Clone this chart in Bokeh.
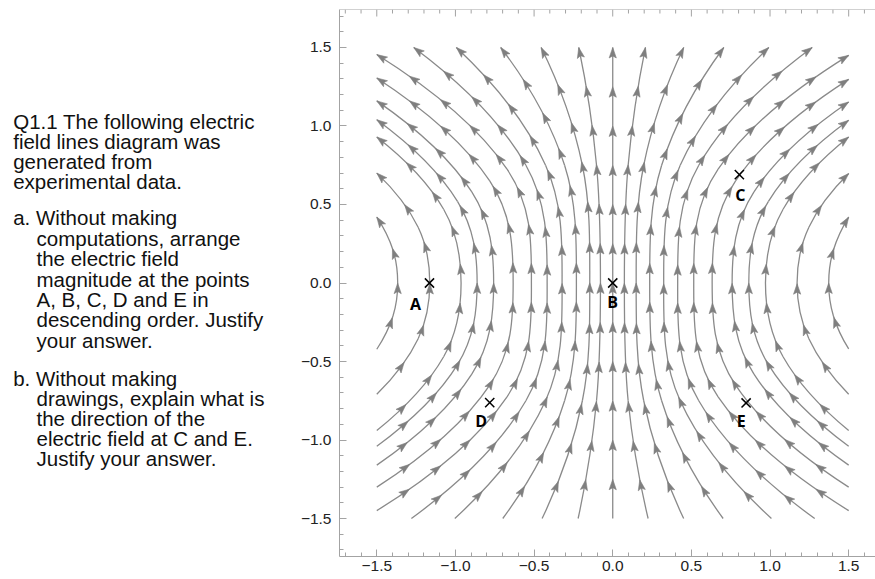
import numpy as np
from bokeh.plotting import figure
from bokeh.layouts import row
from bokeh.models import Range1d, SingleIntervalTicker, CustomJSTickFormatter, Span
from bokeh.core.properties import value
from bokeh.embed import file_html
from bokeh.resources import INLINE

# ---------------- question text ----------------
q_lines = ["Q1.1 The following electric", "field lines diagram was",
           "generated from", "experimental data."]
a_lines = ["a. Without making", "computations, arrange", "the electric field",
           "magnitude at the points", "A, B, C, D and E in",
           "descending order. Justify", "your answer."]
b_lines = ["b. Without making", "drawings, explain what is",
           "the direction of the", "electric field at C and E.",
           "Justify your answer."]

# ---------------- field lines, left to right ----------------
# start point (lower end), lower intermediate point, crossing of y = 0,
# upper intermediate point, end point (upper end)
start_x = [-1.5, -1.5, -1.5, -1.5, -1.5, -1.5, -1.5,
           -1.28, -1.004, -0.699, -0.449, -0.22, 0.0, 0.225, 0.451, 0.702, 1.009, 1.284,
           1.5, 1.5, 1.5, 1.5, 1.5, 1.5, 1.5]
start_y = [-0.422, -0.709, -0.94, -1.04, -1.16, -1.30, -1.45,
           -1.5, -1.5, -1.5, -1.5, -1.5, -1.5, -1.5, -1.5, -1.5, -1.5, -1.5,
           -1.45, -1.30, -1.16, -1.04, -0.94, -0.709, -0.42]
low_x = [-1.397, -1.237, -1.075, -0.987, -0.896, -0.782, -0.672,
         -0.552, -0.427, -0.306, -0.193, -0.103, 0.0, 0.098, 0.197, 0.311, 0.429, 0.547,
         0.670, 0.781, 0.898, 0.990, 1.083, 1.247, 1.403]
low_y = [-0.21, -0.355, -0.47, -0.52, -0.58, -0.65, -0.725,
         -0.75, -0.75, -0.75, -0.75, -0.75, -0.75, -0.75, -0.75, -0.75, -0.75, -0.75,
         -0.725, -0.65, -0.58, -0.52, -0.47, -0.355, -0.21]
cross_x = [-1.367, -1.163, -0.964, -0.862, -0.757, -0.633, -0.517,
           -0.417, -0.322, -0.231, -0.146, -0.078, 0.0, 0.074, 0.149, 0.235, 0.324, 0.413,
           0.515, 0.632, 0.759, 0.865, 0.971, 1.172, 1.373]
up_x = [-1.397, -1.237, -1.075, -0.987, -0.896, -0.782, -0.672,
        -0.552, -0.427, -0.306, -0.193, -0.103, 0.0, 0.098, 0.197, 0.311, 0.429, 0.547,
        0.670, 0.781, 0.898, 0.990, 1.083, 1.247, 1.403]
up_y = [0.21, 0.355, 0.47, 0.52, 0.58, 0.65, 0.725,
        0.75, 0.75, 0.75, 0.75, 0.75, 0.75, 0.75, 0.75, 0.75, 0.75, 0.75,
        0.725, 0.65, 0.58, 0.52, 0.47, 0.355, 0.21]
end_x = [-1.5, -1.5, -1.5, -1.5, -1.5, -1.5, -1.5,
         -1.265, -0.994, -0.712, -0.455, -0.216, 0.0, 0.208, 0.451, 0.706, 0.992, 1.268,
         1.5, 1.5, 1.5, 1.5, 1.5, 1.5, 1.5]
end_y = [0.42, 0.70, 0.93, 1.04, 1.16, 1.306, 1.455,
         1.5, 1.5, 1.5, 1.5, 1.5, 1.5, 1.5, 1.5, 1.5, 1.5, 1.5,
         1.45, 1.297, 1.153, 1.036, 0.93, 0.697, 0.42]

# ---------------- marked points ----------------
pt_name = ["A", "B", "C", "D", "E"]
pt_x = [-1.165, 0.0, 0.805, -0.782, 0.848]
pt_y = [0.0, 0.0, 0.69, -0.762, -0.764]
lab_x = [-1.254, 0.0, 0.811, -0.836, 0.817]
lab_y = [-0.131, -0.121, 0.56, -0.88, -0.876]

# ---------------- axes ----------------
tick_step = 0.5
minor_step = 0.1
x_lo, x_hi = -1.737, 1.6705
y_lo, y_hi = -1.742, 1.742

LINE_COL = "#8a8a8a"
FRAME_COL = "#a3a3a3"

W_TEXT, W_PLOT, H = 289, 586, 579
BORDER_L, BORDER_T, BORDER_B = 50, 9, 23

# ---------- text panel (its frame is aligned with the plot frame by the row layout,
# so the y range is set to map data units 1:1 onto page pixels) ----------
tf = figure(width=W_TEXT, height=H, x_range=Range1d(0, W_TEXT),
            y_range=Range1d(H - BORDER_B, BORDER_T),
            output_backend="svg", toolbar_location=None, title=None,
            x_axis_location=None, y_axis_location=None,
            min_border_left=0, min_border_right=0,
            min_border_top=BORDER_T, min_border_bottom=BORDER_B)
tf.grid.visible = False
tf.outline_line_color = None
tf.background_fill_color = "white"
tf.border_fill_color = "white"

tx, ty, txt = [], [], []
for i, s in enumerate(q_lines):
    tx.append(12.7); ty.append(120.5 + 20.0 * i); txt.append(s)
for i, s in enumerate(a_lines):
    tx.append(12.7 if i == 0 else 36.0); ty.append(217.2 + 20.45 * i); txt.append(s)
for i, s in enumerate(b_lines):
    tx.append(12.7 if i == 0 else 36.0); ty.append(377.5 + 20.0 * i); txt.append(s)
tf.text(x=tx, y=ty, text=txt, text_font=value("Liberation Sans"), text_font_size="20.5px",
        text_baseline="alphabetic", text_align="left", text_color="#111111")

# ---------- plot panel ----------
p = figure(width=W_PLOT, height=H, x_range=Range1d(x_lo, x_hi), y_range=Range1d(y_lo, y_hi),
           output_backend="svg", toolbar_location=None, title=None,
           x_axis_location="below", y_axis_location="left",
           min_border_left=BORDER_L, min_border_right=0,
           min_border_top=BORDER_T, min_border_bottom=BORDER_B)
p.grid.visible = False
p.outline_line_color = None
p.background_fill_color = "white"
p.border_fill_color = "white"

fmt = CustomJSTickFormatter(code="""
    var t = Math.abs(tick) < 1e-9 ? 0 : tick;
    return t.toFixed(1).replace('-', '\u2212');
""")

for ax in [p.below[0], p.left[0]]:
    ax.ticker = SingleIntervalTicker(interval=tick_step, num_minor_ticks=5)
    ax.formatter = fmt
    ax.axis_line_color = FRAME_COL
    ax.major_tick_line_color = FRAME_COL
    ax.minor_tick_line_color = FRAME_COL
    ax.major_tick_in = 7
    ax.major_tick_out = 0
    ax.minor_tick_in = 4
    ax.minor_tick_out = 0
    ax.major_label_text_font = "Liberation Sans"
    ax.major_label_text_font_size = "15.5px"
    ax.major_label_text_color = "#222222"
p.below[0].major_label_standoff = 4
p.left[0].major_label_standoff = 8

# scale (px per data unit)
sx = (W_PLOT - BORDER_L) / (x_hi - x_lo)
sy = (H - BORDER_T - BORDER_B) / (y_hi - y_lo)

# top frame line with inward ticks (the right frame side lies outside the picture)
p.add_layout(Span(location=y_hi, dimension="width", line_color=FRAME_COL, line_width=1))
top_major = np.arange(-3, 4) * tick_step
top_minor = np.array([v for v in np.arange(-17, 17) * minor_step
                      if abs(v / tick_step - round(v / tick_step)) > 1e-6])
p.segment(x0=top_major, y0=[y_hi] * len(top_major), x1=top_major,
          y1=[y_hi - 7 / sy] * len(top_major), line_color=FRAME_COL, line_width=1)
p.segment(x0=top_minor, y0=[y_hi] * len(top_minor), x1=top_minor,
          y1=[y_hi - 4 / sy] * len(top_minor), line_color=FRAME_COL, line_width=1)

bx0, by0, bx1, by1, bcx0, bcy0, bcx1, bcy1 = ([] for _ in range(8))
arrow_xs, arrow_ys = [], []
ARROW_SPACING = 39.0
A_LEN, A_HW = 10.5, 3.6

for k in range(len(cross_x)):
    P = np.array([[start_x[k], start_y[k]], [low_x[k], low_y[k]], [cross_x[k], 0.0],
                  [up_x[k], up_y[k]], [end_x[k], end_y[k]]])
    n = len(P)
    T = np.zeros_like(P)
    for i in range(1, n - 1):
        T[i] = (P[i + 1] - P[i - 1]) / 2
    T[0] = 2 * (P[1] - P[0]) - T[1]
    T[-1] = 2 * (P[-1] - P[-2]) - T[-2]
    samples = []
    for i in range(n - 1):
        a, d = P[i], P[i + 1]
        b = a + T[i] / 3
        c = d - T[i + 1] / 3
        bx0.append(a[0]); by0.append(a[1]); bx1.append(d[0]); by1.append(d[1])
        bcx0.append(b[0]); bcy0.append(b[1]); bcx1.append(c[0]); bcy1.append(c[1])
        t = np.linspace(0, 1, 60)[:, None]
        pts = (1 - t) ** 3 * a + 3 * (1 - t) ** 2 * t * b + 3 * (1 - t) * t ** 2 * c + t ** 3 * d
        samples.append(pts if i == 0 else pts[1:])
    S = np.vstack(samples)
    Spx = np.column_stack([S[:, 0] * sx, S[:, 1] * sy])
    seg = np.hypot(np.diff(Spx[:, 0]), np.diff(Spx[:, 1]))
    cum = np.concatenate([[0], np.cumsum(seg)])
    L = cum[-1]
    na = max(1, int(round(L / ARROW_SPACING)))
    spacing = L / na
    for j in range(na):
        s = L - j * spacing
        idx = min(max(np.searchsorted(cum, s), 1), len(cum) - 1)
        f = (s - cum[idx - 1]) / max(seg[idx - 1], 1e-9)
        tip = Spx[idx - 1] + f * (Spx[idx] - Spx[idx - 1])
        dvec = Spx[idx] - Spx[idx - 1]
        dvec = dvec / np.hypot(*dvec)
        nvec = np.array([-dvec[1], dvec[0]])
        base = tip - A_LEN * dvec
        tri = [tip, base + A_HW * nvec, tip - 0.8 * A_LEN * dvec, base - A_HW * nvec]
        arrow_xs.append([q[0] / sx for q in tri])
        arrow_ys.append([q[1] / sy for q in tri])

p.bezier(x0=bx0, y0=by0, x1=bx1, y1=by1, cx0=bcx0, cy0=bcy0, cx1=bcx1, cy1=bcy1,
         line_color=LINE_COL, line_width=1.3)
p.patches(xs=arrow_xs, ys=arrow_ys, fill_color="#7f7f7f", line_color="#7f7f7f", line_width=0.6)

p.scatter(x=pt_x, y=pt_y, marker="x", size=13, line_color="black", line_width=1.5)
p.text(x=lab_x, y=lab_y, text=pt_name, text_font=value("Open Sans"), text_font_style="bold",
       text_font_size="16px", text_align="center", text_baseline="middle", text_color="black")

layout = row(tf, p)
open("out.html", "w").write(file_html(layout, INLINE))
